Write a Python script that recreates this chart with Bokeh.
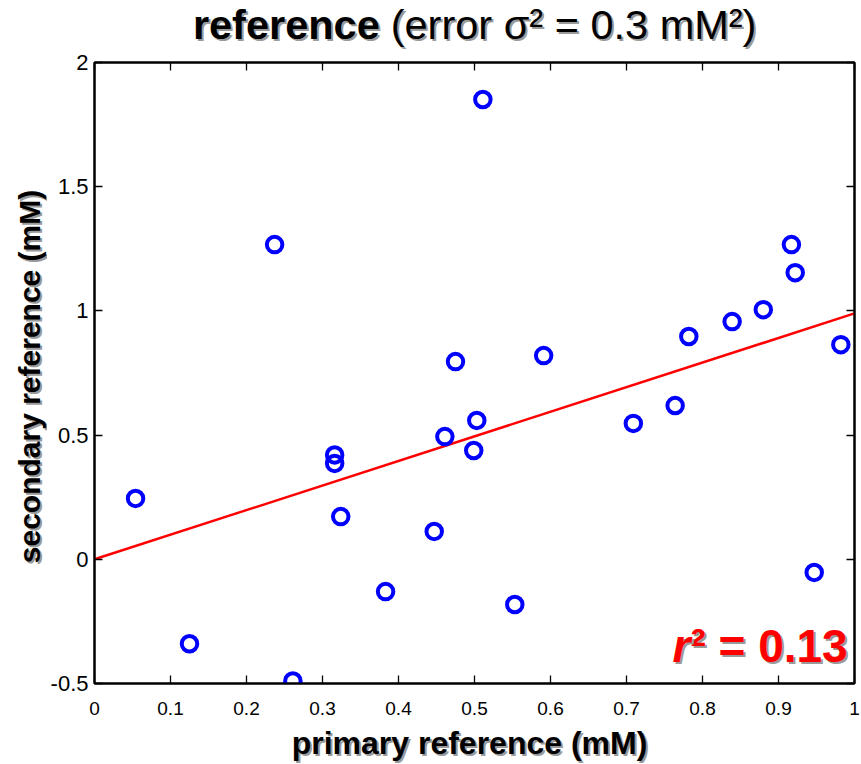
import numpy as np
from bokeh.plotting import figure
from bokeh.layouts import column, row
from bokeh.models import Range1d, FixedTicker, LinearAxis, Label
from bokeh.embed import file_html
from bokeh.resources import INLINE

# data
primary = [0.054, 0.125, 0.237, 0.261, 0.316, 0.316, 0.324, 0.383, 0.447, 0.461,
           0.475, 0.499, 0.503, 0.511, 0.553, 0.591, 0.709, 0.764, 0.782, 0.839,
           0.880, 0.917, 0.922, 0.947, 0.982]
secondary = [0.245, -0.34, 1.267, -0.49, 0.42, 0.386, 0.172, -0.13, 0.112, 0.494,
             0.796, 0.438, 0.559, 1.851, -0.182, 0.820, 0.547, 0.619, 0.897, 0.957,
             1.005, 1.267, 1.154, -0.053, 0.864]
fit_x = [0.0, 1.0]
fit_y = [0.0, 0.99]
x_ticks = [0, 0.1, 0.2, 0.3, 0.4, 0.5, 0.6, 0.7, 0.8, 0.9, 1]
x_tick_labels = ["0", "0.1", "0.2", "0.3", "0.4", "0.5", "0.6", "0.7", "0.8", "0.9", "1"]
y_ticks = [-0.5, 0, 0.5, 1, 1.5, 2]
y_tick_labels = ["-0.5", "0", "0.5", "1", "1.5", "2"]
title_bold = "reference"
title_rest = "(error σ² = 0.3 mM²)"
x_label = "primary reference (mM)"
y_label = "secondary reference (mM)"
r2_text = "² = 0.13"

FONT = "Liberation Sans"
SH = "#9a9a9a"

LEFT_W = 47
TITLE_H = 49
XLAB_H = 40
B_LEFT, B_RIGHT, B_TOP, B_BOTTOM = 45, 9, 13, 41
FRAME_W, FRAME_H = 760, 621
MAIN_W = B_LEFT + FRAME_W + B_RIGHT
FRAME_X0 = LEFT_W + B_LEFT          # window x of the frame's left edge
YSTRIP_H = 764 - TITLE_H - XLAB_H    # frame height of the y-label strip


def strip(w, h, xr, yr, **borders):
    f = figure(width=w, height=h, x_range=Range1d(0, xr), y_range=Range1d(0, yr),
               output_backend="svg", toolbar_location=None, title=None,
               x_axis_type=None, y_axis_type=None,
               min_border_left=borders.get("left", 0), min_border_right=borders.get("right", 0),
               min_border_top=borders.get("top", 0), min_border_bottom=borders.get("bottom", 0))
    f.grid.visible = False
    f.outline_line_color = None
    f.background_fill_color = "white"
    f.border_fill_color = "white"
    return f


def shadow_label(fig, **kw):
    kw2 = dict(kw)
    kw2["text_color"] = SH
    kw2["x_offset"] = kw.get("x_offset", 0) + 2
    kw2["y_offset"] = kw.get("y_offset", 0) - 2
    fig.add_layout(Label(**kw2))
    fig.add_layout(Label(**kw))


# main plot
p = figure(frame_width=FRAME_W, frame_height=FRAME_H,
           x_range=Range1d(0, 1), y_range=Range1d(-0.5, 2),
           output_backend="svg", toolbar_location=None, title=None,
           min_border_left=B_LEFT, min_border_right=B_RIGHT,
           min_border_top=B_TOP, min_border_bottom=B_BOTTOM)
p.grid.visible = False
p.outline_line_color = "black"
p.outline_line_width = 2
p.background_fill_color = "white"
p.border_fill_color = "white"


def style_axis(ax, show_labels):
    ax.axis_line_width = 2
    ax.axis_line_color = "black"
    ax.major_tick_in = 8
    ax.major_tick_out = 0
    ax.major_tick_line_width = 1.3
    ax.major_tick_line_color = "black"
    ax.minor_tick_line_color = None
    if not show_labels:
        ax.major_label_text_color = None
        ax.major_label_text_font_size = "1px"
        ax.major_label_standoff = 0


xax = p.xaxis[0]
xax.ticker = FixedTicker(ticks=x_ticks)
xax.major_label_overrides = {t: l for t, l in zip(x_ticks, x_tick_labels)}
style_axis(xax, True)
xax.major_label_text_font = FONT
xax.major_label_text_font_size = "19px"
xax.major_label_text_color = "black"
xax.major_label_standoff = 18

yax = p.yaxis[0]
yax.ticker = FixedTicker(ticks=y_ticks)
yax.major_label_overrides = {t: l for t, l in zip(y_ticks, y_tick_labels)}
style_axis(yax, True)
yax.major_label_text_font = FONT
yax.major_label_text_font_size = "22px"
yax.major_label_text_color = "black"
yax.major_label_standoff = 6

top = LinearAxis(ticker=FixedTicker(ticks=x_ticks))
style_axis(top, False)
p.add_layout(top, "above")
right = LinearAxis(ticker=FixedTicker(ticks=y_ticks))
style_axis(right, False)
p.add_layout(right, "right")

p.line(fit_x, fit_y, line_color="red", line_width=2.5)
p.scatter(primary, secondary, marker="circle", size=15.5, fill_color=None,
          line_color="blue", line_width=4)

# r^2 annotation (inside the frame)
shadow_label(p, x=0.991, y=-0.351, text=r2_text, text_font=FONT, text_font_style="bold",
             text_font_size="46px", text_align="right", text_baseline="middle",
             text_color="red")
shadow_label(p, x=(688 - 92) / 760, y=-0.351, text="r", text_font=FONT,
             text_font_style="bold italic", text_font_size="46px", text_align="right",
             text_baseline="middle", text_color="red")

# title strip (its frame is aligned with the main frame: x range = frame pixels)
tfig = strip(MAIN_W, TITLE_H, FRAME_W, TITLE_H)
shadow_label(tfig, x=378 - FRAME_X0, y=TITLE_H - 23.5, text=title_bold, text_font=FONT,
             text_font_style="bold", text_font_size="41.5px", text_align="right",
             text_baseline="middle", text_color="black")
shadow_label(tfig, x=389 - FRAME_X0, y=TITLE_H - 23.5, text=title_rest, text_font=FONT,
             text_font_style="normal", text_font_size="41.5px", text_align="left",
             text_baseline="middle", text_color="black")

# x label strip
xfig = strip(MAIN_W, XLAB_H, FRAME_W, XLAB_H)
shadow_label(xfig, x=468 - FRAME_X0, y=22, text=x_label, text_font=FONT,
             text_font_style="bold", text_font_size="32px", text_align="center",
             text_baseline="middle", text_color="black")

# y label strip
yfig = strip(LEFT_W, 764, LEFT_W, YSTRIP_H, top=TITLE_H, bottom=XLAB_H)
shadow_label(yfig, x=29, y=(764 - XLAB_H) - 376, text=y_label, text_font=FONT,
             text_font_style="bold", text_font_size="30px", text_align="center",
             text_baseline="middle", angle=np.pi / 2, text_color="black")

layout = row(yfig, column(tfig, p, xfig, spacing=0), spacing=0)

open("out.html", "w").write(file_html(layout, INLINE))
